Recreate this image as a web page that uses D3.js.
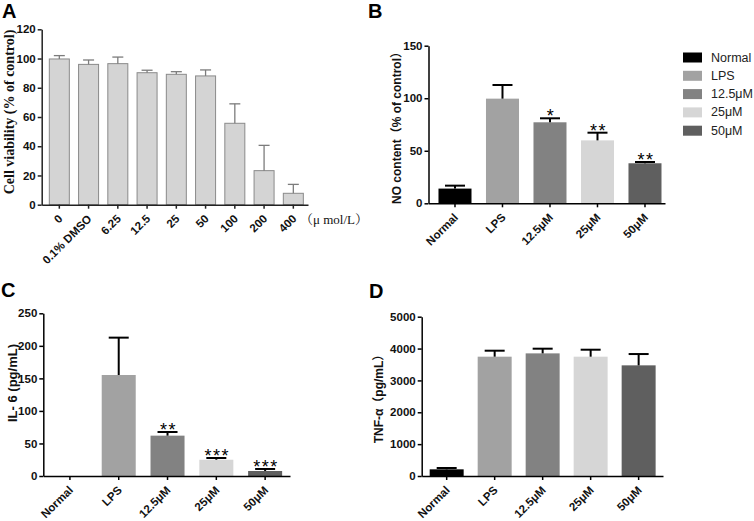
<!DOCTYPE html>
<html><head><meta charset="utf-8">
<script src="https://cdn.jsdelivr.net/npm/d3@7"></script>
<style>
html,body{margin:0;padding:0;background:#fff;}
svg{display:block;}
</style></head>
<body>
<svg id="chart" width="754" height="521"></svg>
<script>
// ---------- DATA ----------
const catsA = ["0","0.1% DMSO","6.25","12.5","25","50","100","200","400"];
const viabilityMean = [99.7, 96.0, 96.5, 90.3, 89.2, 88.1, 55.7, 23.3, 7.8];
const viabilitySD   = [2.3, 3.0, 4.5, 1.7, 1.8, 4.1, 13.3, 17.3, 6.1];
const ticksA = [0,20,40,60,80,100,120];

const groups = ["Normal","LPS","12.5μM","25μM","50μM"];
const groupColors = ["#000000","#a2a2a2","#828282","#d6d6d6","#5f5f5f"];

const noMean = [14.0, 99.6, 77.1, 59.9, 38.1];
const noSD   = [2.8, 13.0, 3.8, 7.3, 1.2];
const noSig  = ["","","*","**","**"];
const ticksB = [0,50,100,150];

const il6Mean = [0, 155.2, 62.0, 25.0, 7.7];
const il6SD   = [0, 57.4, 5.6, 2.7, 3.1];
const il6Sig  = ["","","**","***","***"];
const ticksC = [0,50,100,150,200,250];

const tnfMean = [209, 3745, 3849, 3745, 3473];
const tnfSD   = [42, 188, 147, 219, 355];
const ticksD = [0,1000,2000,3000,4000,5000];

// ---------- DRAWING ----------
const svg = d3.select("#chart");
const SANS = "Arial, 'Liberation Sans', 'Noto Sans CJK SC', sans-serif";
const SERIF = "'Times New Roman', 'Liberation Serif', 'Noto Serif CJK SC', serif";

function panel(cfg){
  const g = svg.append("g");
  const x = d3.scaleBand().domain(cfg.cats).range([cfg.x0, cfg.x1])
    .paddingInner(cfg.pi).paddingOuter(cfg.po).align(cfg.align);
  const y = d3.scaleLinear().domain([0, cfg.max]).range([cfg.yBot, cfg.yTop]);

  // bars
  g.selectAll("rect.bar").data(cfg.cats).join("rect")
    .attr("class","bar")
    .attr("x", d => x(d))
    .attr("width", x.bandwidth())
    .attr("y", (d,i) => y(cfg.means[i]))
    .attr("height", (d,i) => y(0) - y(cfg.means[i]))
    .attr("fill", (d,i) => cfg.fill ? cfg.fill : cfg.colors[i])
    .attr("stroke", cfg.barStroke || "none")
    .attr("stroke-width", cfg.barStroke ? 1 : 0);

  // error bars (upper half only)
  const eb = g.selectAll("g.err").data(cfg.cats.map((c,i)=>({c,i})).filter(d=>cfg.sds[d.i]>0))
    .join("g").attr("class","err")
    .attr("stroke", cfg.errColor).attr("stroke-width", cfg.errW).attr("fill","none");
  eb.append("line")
    .attr("x1", d => x(d.c)+x.bandwidth()/2).attr("x2", d => x(d.c)+x.bandwidth()/2)
    .attr("y1", d => y(cfg.means[d.i])).attr("y2", d => y(cfg.means[d.i]+cfg.sds[d.i]));
  eb.append("line")
    .attr("x1", d => x(d.c)+x.bandwidth()/2 - cfg.cap/2).attr("x2", d => x(d.c)+x.bandwidth()/2 + cfg.cap/2)
    .attr("y1", d => y(cfg.means[d.i]+cfg.sds[d.i])).attr("y2", d => y(cfg.means[d.i]+cfg.sds[d.i]));

  // significance stars
  if (cfg.sig){
    g.selectAll("text.sig").data(cfg.cats.map((c,i)=>({c,i})).filter(d=>cfg.sig[d.i]))
      .join("text").attr("class","sig")
      .attr("x", d => x(d.c)+x.bandwidth()/2 + 1)
      .attr("y", d => y(cfg.means[d.i]+cfg.sds[d.i]) + 4)
      .attr("text-anchor","middle")
      .attr("font-family", SANS).attr("font-size", 18)
      .attr("letter-spacing", "1.5px")
      .attr("fill","#000")
      .text(d => cfg.sig[d.i]);
  }

  // axes
  const yAx = g.append("g").attr("transform", `translate(${cfg.x0},0)`)
    .call(d3.axisLeft(y).tickValues(cfg.ticks).tickFormat(d3.format("d"))
      .tickSize(4).tickSizeOuter(0).tickPadding(2));
  const xAx = g.append("g").attr("transform", `translate(0,${cfg.yBot})`)
    .call(d3.axisBottom(x).tickSize(4).tickSizeOuter(0));
  [yAx, xAx].forEach(a => {
    a.select(".domain").attr("stroke", cfg.axisColor).attr("stroke-width", 1.5);
    a.selectAll(".tick line").attr("stroke", cfg.axisColor).attr("stroke-width", 1.5);
    a.selectAll("text").attr("font-family", SANS).attr("font-weight","bold")
      .attr("font-size", 11.5).attr("fill","#111");
  });
  // category labels rotated -45°
  xAx.selectAll(".tick text")
    .attr("x", 0).attr("y", 0).attr("dy","0.35em")
    .attr("text-anchor","end")
    .attr("transform","translate(1,12) rotate(-45)");

  // y title
  g.append("text")
    .attr("transform", `translate(${cfg.titleX},${cfg.titleY}) rotate(-90)`)
    .attr("text-anchor","middle")
    .attr("font-family", cfg.titleFont).attr("font-weight","bold")
    .attr("font-size", cfg.titleSize).attr("fill","#111")
    .text(cfg.title);

  // panel letter
  g.append("text").attr("x", cfg.lx).attr("y", cfg.ly)
    .attr("font-family", SANS).attr("font-weight","bold").attr("font-size", 20)
    .attr("fill","#000").text(cfg.letter);
  return {x, y, g};
}

// Panel A
const pA = panel({
  cats: catsA, means: viabilityMean, sds: viabilitySD, ticks: ticksA, max: 120,
  x0: 41.7, x1: 308, yTop: 29.3, yBot: 204.7, pi: 0.316, po: 0.21, align: 0.62,
  fill: "#d4d4d4", barStroke: "#8a8a8a", errColor: "#7c7c7c", errW: 1.3, cap: 11,
  axisColor: "#222",
  title: "Cell viability (% of control)", titleFont: SERIF, titleSize: 14,
  titleX: 13.5, titleY: 112, letter: "A", lx: 2, ly: 18
});
pA.g.append("text").attr("x", 300).attr("y", 224)
  .attr("font-family", SERIF).attr("font-size", 13).attr("fill","#111")
  .text("（μ mol/L）");

// Panel B
panel({
  cats: groups, means: noMean, sds: noSD, ticks: ticksB, max: 150, colors: groupColors, sig: noSig,
  x0: 428.5, x1: 665, yTop: 45.7, yBot: 203.3, pi: 0.305, po: 0.142, align: 0.74,
  errColor: "#000", errW: 2, cap: 20, axisColor: "#000",
  title: "NO content（% of control）", titleFont: SANS, titleSize: 12,
  titleX: 401, titleY: 125, letter: "B", lx: 368, ly: 18
});

// Legend
const leg = svg.append("g");
leg.selectAll("rect").data(groups).join("rect")
  .attr("x", 683).attr("y", (d,i) => 52.5 + i*18.3)
  .attr("width", 19).attr("height", 10)
  .attr("fill", (d,i) => groupColors[i]);
leg.selectAll("text").data(groups).join("text")
  .attr("x", 711).attr("y", (d,i) => 57.5 + i*18.3)
  .attr("dominant-baseline","central")
  .attr("font-family", SANS).attr("font-size", 12.5).attr("fill","#222")
  .text(d => d);

// Panel C
panel({
  cats: groups, means: il6Mean, sds: il6SD, ticks: ticksC, max: 250, colors: groupColors, sig: il6Sig,
  x0: 43.3, x1: 290, yTop: 313.3, yBot: 476, pi: 0.303, po: 0.179, align: 0.55,
  errColor: "#000", errW: 2, cap: 20, axisColor: "#000",
  title: "IL- 6 (pg/mL)", titleFont: SANS, titleSize: 13,
  titleX: 16.5, titleY: 383, letter: "C", lx: 1, ly: 297
});

// Panel D
panel({
  cats: groups, means: tnfMean, sds: tnfSD, ticks: ticksD, max: 5000, colors: groupColors,
  x0: 421.7, x1: 663, yTop: 316.7, yBot: 476, pi: 0.292, po: 0.16, align: 0.52,
  errColor: "#000", errW: 2, cap: 20, axisColor: "#000",
  title: "TNF-α（pg/mL）", titleFont: SANS, titleSize: 12,
  titleX: 382.5, titleY: 396, letter: "D", lx: 369, ly: 298
});
</script>
</body></html>
